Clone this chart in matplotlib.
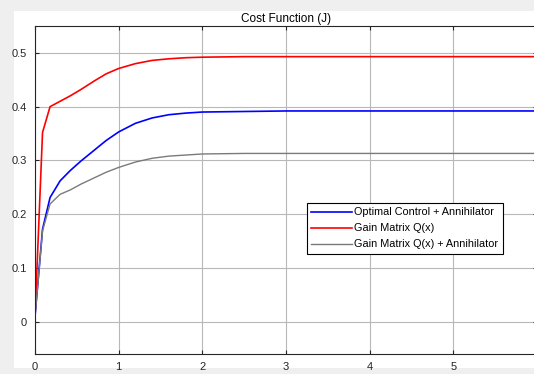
import matplotlib
matplotlib.use("Agg")
from matplotlib import pyplot as plt
from matplotlib.patches import Rectangle

plt.rcParams['font.family'] = ['Liberation Sans', 'DejaVu Sans']

# time samples and cost values of the three controllers
t = [0, 0.09, 0.18, 0.3, 0.42, 0.55, 0.7, 0.85, 1.0, 1.2, 1.4, 1.6, 1.8, 2.0, 2.5, 3, 4, 5, 6]
j_optimal = [0.01, 0.172, 0.231, 0.262, 0.281, 0.299, 0.318, 0.337, 0.353, 0.369, 0.379,
             0.385, 0.388, 0.390, 0.391, 0.392, 0.392, 0.392, 0.392]
j_gain = [0.01, 0.352, 0.400, 0.410, 0.420, 0.432, 0.447, 0.461, 0.471, 0.480, 0.486,
          0.489, 0.491, 0.492, 0.493, 0.493, 0.493, 0.493, 0.493]
j_gain_ann = [0.01, 0.169, 0.219, 0.237, 0.245, 0.256, 0.267, 0.278, 0.287, 0.297, 0.304,
              0.308, 0.310, 0.312, 0.313, 0.313, 0.313, 0.313, 0.313]
xticks = [0, 1, 2, 3, 4, 5]
yticks = [0, 0.1, 0.2, 0.3, 0.4, 0.5]

W, H = 534, 374
fig = plt.figure(figsize=(W / 100, H / 100), dpi=100, facecolor='#efefef')
# white panel behind the axes
panel = Rectangle((14 / W, 6 / H), 1, 1 - 17 / H, transform=fig.transFigure,
                  facecolor='white', edgecolor='none', zorder=-10)
fig.patches.append(panel)

ax = fig.add_axes([35 / W, (H - 354) / H, 502 / W, 328 / H])
ax.set_zorder(5)
ax.plot(t, j_optimal, color='#0000ff', lw=1.2, label='Optimal Control + Annihilator')
ax.plot(t, j_gain, color='#ff0000', lw=1.2, label='Gain Matrix Q(x)')
ax.plot(t, j_gain_ann, color='#7a7a7a', lw=1.0, label='Gain Matrix Q(x) + Annihilator')

ax.set_xlim(0, 6)
ax.set_ylim(-0.06, 0.55)
ax.set_xticks(xticks)
ax.set_xticklabels([str(v) for v in xticks])
ax.set_yticks(yticks)
ax.set_yticklabels(['0', '0.1', '0.2', '0.3', '0.4', '0.5'])
ax.tick_params(direction='in', length=3, width=0.8, labelsize=8, colors='#262626',
               top=True, right=True, pad=6)
ax.grid(True, color='#b8b8b8', lw=0.8)
ax.set_axisbelow(True)
for s in ax.spines.values():
    s.set_color('#262626')
    s.set_linewidth(0.8)

ax.set_title('Cost Function (J)', fontsize=8.5, pad=3)

leg = ax.legend(loc='upper left', bbox_to_anchor=(0.542, 0.46), fontsize=7.8,
                fancybox=False, framealpha=1, edgecolor='black', borderpad=0.4,
                labelspacing=0.55, handlelength=3.7, handletextpad=0.25, borderaxespad=0)
leg.get_frame().set_linewidth(0.8)

fig.savefig('out.png', dpi=100, facecolor=fig.get_facecolor())
